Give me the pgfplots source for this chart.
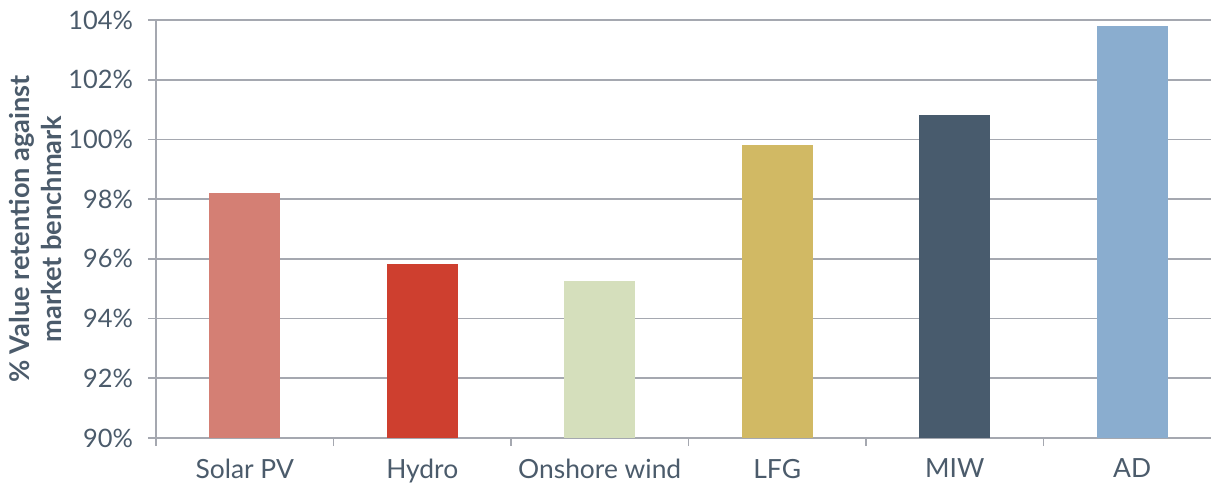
\documentclass[border=0pt]{standalone}
\usepackage{pgfplots}
\pgfplotsset{compat=1.18}
\usepackage{fontspec}
\setmainfont{Lato}
\definecolor{txt}{HTML}{4B5B6B}
\definecolor{gridc}{HTML}{A5A8B0}
\definecolor{cSolar}{HTML}{D47F74}
\definecolor{cHydro}{HTML}{CE3F2F}
\definecolor{cWind}{HTML}{D5DFBC}
\definecolor{cLFG}{HTML}{D1B964}
\definecolor{cMIW}{HTML}{485B6D}
\definecolor{cAD}{HTML}{8AADCF}
\begin{document}
\begin{tikzpicture}
\begin{axis}[
  at={(0,0)}, anchor=south west,
  scale only axis,
  width=527.5pt, height=209pt,
  xmin=-0.5, xmax=5.444,
  ymin=90, ymax=104,
  ytick={90,92,...,104},
  yticklabel={\pgfmathprintnumber{\tick}\%},
  /pgf/number format/assume math mode=true,
  xtick={0,1,2,3,4,5},
  xticklabels={Solar PV,Hydro,Onshore wind,LFG,MIW,AD},
  minor xtick={-0.5,0.5,1.5,2.5,3.5,4.5},
  major x tick style={draw=none},
  minor tick length=4pt,
  major tick length=4pt,
  tick align=outside,
  tick style={gridc, line width=0.9pt},
  ytick pos=left, xtick pos=bottom,
  axis line style={gridc, line width=0.9pt},
  axis x line*=bottom, axis y line*=left,
  ymajorgrids,
  major grid style={gridc, line width=0.9pt},
  ybar, bar width=35.5pt, bar shift=0pt,
  ticklabel style={font=\fontsize{12.7}{14}\selectfont, text=txt},
  yticklabel style={xshift=-4pt},
  xticklabel style={yshift=-3pt, font=\fontsize{13.2}{14}\selectfont},
  clip=true,
]
\addplot[fill=cSolar, draw=none] coordinates {(0,98.2)};
\addplot[fill=cHydro, draw=none] coordinates {(1,95.83)};
\addplot[fill=cWind, draw=none] coordinates {(2,95.26)};
\addplot[fill=cLFG, draw=none] coordinates {(3,99.81)};
\addplot[fill=cMIW, draw=none] coordinates {(4,100.82)};
\addplot[fill=cAD, draw=none] coordinates {(5,103.8)};
\end{axis}
\node[rotate=90, align=center, text=txt, font=\bfseries\fontsize{13.6}{16}\selectfont] at (-60.5pt,104.5pt) {\% Value retention against\\market benchmark};
\pgfresetboundingbox
\path (-78pt,-23pt) rectangle (527.5pt,219pt);
\end{tikzpicture}
\end{document}
